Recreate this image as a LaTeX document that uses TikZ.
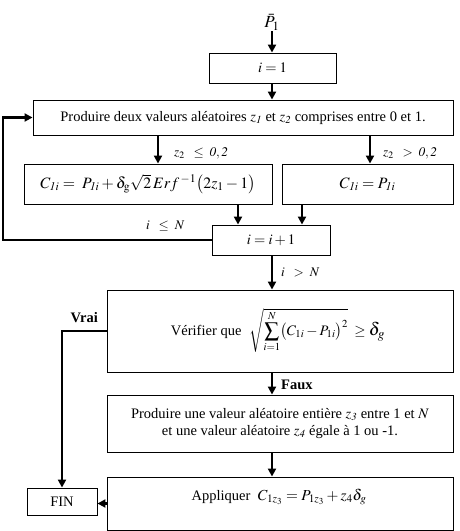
\documentclass[tikz,border=0pt]{standalone}
\usepackage{mathptmx}
\usepackage[no-math]{fontspec}
\setmainfont{Liberation Serif}
\usetikzlibrary{arrows.meta}
\tikzset{
  box/.style={draw, line width=0.9pt, inner sep=0pt},
  arr/.style={line width=2.2pt, -{Triangle[length=8pt,width=8pt]}},
  lbl/.style={inner sep=0pt, font=\fontsize{13.2}{15}\selectfont},
  blbl/.style={inner sep=0pt, font=\bfseries\fontsize{14.5}{16}\selectfont},
}
\begin{document}
\begin{tikzpicture}[x=1pt,y=-1pt, font=\fontsize{14.5}{17}\selectfont]
\useasboundingbox (0,0) rectangle (460,531);
% helper x positions
\coordinate (xl) at (158,0);
\coordinate (xr) at (370,0);
\coordinate (xa) at (238,0);
\coordinate (xb) at (302,0);
\coordinate (xm) at (272,0);
\coordinate (xloop) at (3,0);
% nodes
\node[inner sep=1pt] (p) at (272,22) {\fontsize{17}{19}\selectfont$\bar{P}_1$};
\node[box, minimum width=127pt, minimum height=30pt] (b1) at (272.5,68) {$i = 1$};
\node[box, minimum width=420pt, minimum height=35pt] (prod) at (243,117.5) {Produire deux valeurs aléatoires $z_{\mathit 1}$ et $z_{\mathit 2}$ comprises entre 0 et 1.};
\node[box, minimum width=248pt, minimum height=40pt] (cL) at (148,184) {\fontsize{15.8}{18}\selectfont$C_{\mathit{1i}} =\; P_{\mathit{1i}} + \delta_{\mathrm g}\sqrt{2}\,Erf^{\,-1}\bigl(2z_1-1\bigr)$};
\node[box, minimum width=171pt, minimum height=40pt] (cR) at (367.5,184) {\fontsize{15.8}{18}\selectfont$C_{\mathit{1i}} = P_{\mathit{1i}}$};
\node[box, minimum width=118pt, minimum height=30pt] (inc) at (271,240) {$i = i + 1$};
\node[box, minimum width=346pt, minimum height=82pt] (ver) at (280,331) {};
\node[inner sep=0pt] (vertext) at (278,330) {Vérifier que \;$\displaystyle\sqrt{\sum_{i=1}^{N}\bigl(C_{1i}-P_{1i}\bigr)^2}\;\geq\;$\mbox{\fontsize{18}{20}\selectfont$\delta_g$}};
\node[box, minimum width=346pt, minimum height=57pt, align=center] (prod2) at (280,423.5) {Produire une valeur aléatoire entière $z_{\mathit 3}$ entre 1 et $N$\\[0pt] et une valeur aléatoire $z_{\mathit 4}$ égale à 1 ou -1.};
\node[box, minimum width=346pt, minimum height=53pt] (app) at (280,503.5) {};
\node[inner sep=0pt] (apptext) at (279,497) {Appliquer \;{\fontsize{15.3}{17}\selectfont$C_{1z_3} = P_{1z_3} + z_4\delta_g$}};
\node[box, minimum width=70pt, minimum height=27pt] (fin) at (62,501.5) {FIN};
% labels
\node[lbl, anchor=west] (l1) at (174,153) {$z_2\;\;\leq\;\mathit{0,2}$};
\node[lbl, anchor=west] (l2) at (383,153) {$z_2\;\;>\;\mathit{0,2}$};
\node[lbl, anchor=west] (l3) at (146,226) {$i\;\;\leq\;N$};
\node[lbl, anchor=west] (l4) at (281,272) {$i\;\;>\;N$};
\node[blbl, anchor=east] (l5) at (98,318) {Vrai};
\node[blbl, anchor=west] (l6) at (281,385) {Faux};
% connectors
\draw[arr] (p.south -| xm) -- (b1.north -| xm);
\draw[arr] (b1.south -| xm) -- (prod.north -| xm);
\draw[arr] (prod.south -| xl) -- (cL.north -| xl);
\draw[arr] (prod.south -| xr) -- (cR.north -| xr);
\draw[arr] (cL.south -| xa) -- (inc.north -| xa);
\draw[arr] (cR.south -| xb) -- (inc.north -| xb);
\draw[arr, line width=2.6pt] (inc.west) -- (inc.west -| xloop) -- (prod.west -| xloop) -- (prod.west);
\draw[arr] (inc.south -| xm) -- (ver.north -| xm);
\draw[arr] (ver.west) -| (fin.north);
\draw[arr] (ver.south -| xm) -- (prod2.north -| xm);
\draw[arr] (prod2.south -| xm) -- (app.north -| xm);
\draw[arr] (app.west) -- (app.west -| fin.east);
\end{tikzpicture}
\end{document}
